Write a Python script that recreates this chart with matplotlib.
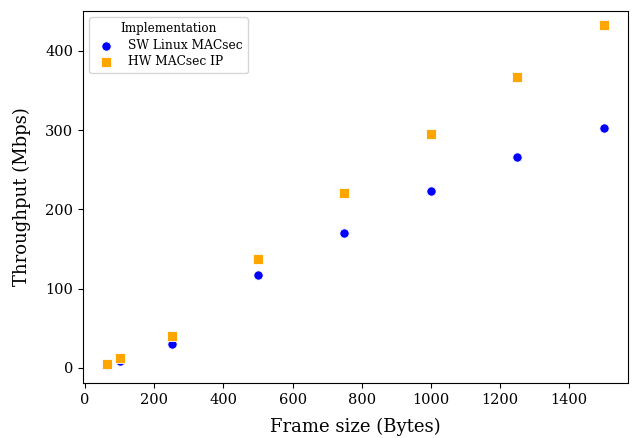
import matplotlib.pyplot as plt

plt.rcParams['font.family'] = 'DejaVu Serif'

frame_size = [64, 100, 250, 500, 750, 1000, 1250, 1500]
sw_linux = [4, 9, 30, 117, 170, 223, 266, 302]
hw_ip = [5, 13, 40, 137, 221, 295, 367, 432]

fig = plt.figure(figsize=(6.34, 4.38), dpi=100)
ax = fig.add_axes([0.131, 0.1256, 0.860, 0.849])

ax.scatter(frame_size, sw_linux, s=45, marker='o', color='blue',
           edgecolors='white', linewidths=0.6, label='SW Linux MACsec')
ax.scatter(frame_size, hw_ip, s=45, marker='s', color='orange',
           edgecolors='white', linewidths=0.6, label='HW MACsec IP')

ax.set_xlabel('Frame size (Bytes)', fontsize=13, labelpad=8)
ax.set_ylabel('Throughput (Mbps)', fontsize=13, labelpad=10)
ax.set_xlim(-6, 1571)
ax.set_ylim(-19, 450)
ax.set_xticks(range(0, 1401, 200))
ax.set_yticks(range(0, 401, 100))
ax.tick_params(labelsize=10.5)

ax.legend(title='Implementation', fontsize=8.8, title_fontsize=8.6, loc='upper left',
          labelspacing=0.3)

fig.savefig('out.png')
